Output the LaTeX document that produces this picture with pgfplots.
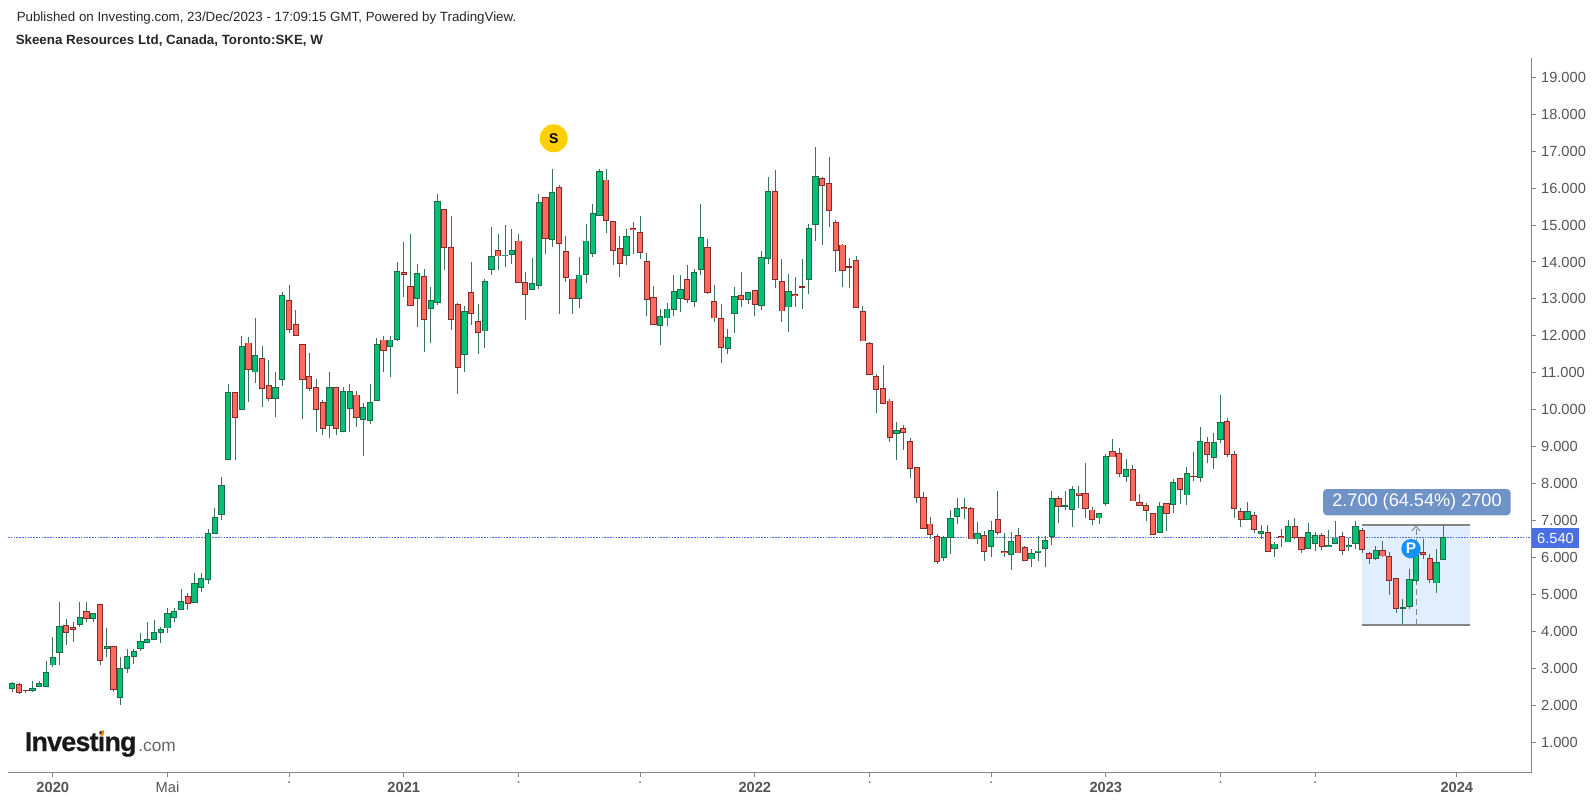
\documentclass[border=0pt]{standalone}
\usepackage{fontspec}
\setmainfont{Liberation Sans}
\newfontfamily\logofont{Liberation Sans}[UprightFont=* Bold, LetterSpace=-3, FakeBold=0.5]
\usepackage{pgfplots}
\usepackage{pgfplotstable}
\pgfplotsset{compat=1.18}
\definecolor{upfill}{HTML}{05C176}
\definecolor{upedge}{HTML}{1A6B48}
\definecolor{dnfill}{HTML}{FF6A5E}
\definecolor{dnedge}{HTML}{862B2B}
\definecolor{wickc}{HTML}{3B7358}
\definecolor{axisc}{HTML}{858585}
\definecolor{tickc}{HTML}{555555}
\definecolor{pricec}{HTML}{4A6FE3}
\definecolor{rectc}{HTML}{E0EEFF}
\definecolor{labelc}{HTML}{6F93C6}
\definecolor{smark}{HTML}{FFD000}
\definecolor{pmark}{HTML}{1591F5}

% x open high low close
\pgfplotstableread{
x o h l c
0 2.45 2.64 2.37 2.60
3 2.38 2.67 2.36 2.46
4 2.51 2.67 2.51 2.60
5 2.51 3.21 2.51 2.90
6 3.08 3.86 3.05 3.31
7 3.43 4.81 3.08 4.15
10 4.17 4.81 4.13 4.39
12 4.35 4.49 4.26 4.49
14 3.53 4.09 3.32 3.61
16 2.21 3.31 2.00 3.00
17 2.99 3.52 2.88 3.34
18 3.30 3.52 3.12 3.48
19 3.53 3.95 3.48 3.75
20 3.70 4.26 3.70 3.79
21 3.77 4.30 3.77 3.99
22 3.97 4.13 3.70 4.06
23 4.08 4.63 3.97 4.49
24 4.37 4.63 4.26 4.55
25 4.58 5.15 4.58 4.82
27 4.78 5.57 4.78 5.30
28 5.18 5.57 5.08 5.44
29 5.39 6.76 5.28 6.66
30 6.65 7.33 6.65 7.10
31 7.15 8.18 7.02 7.97
32 8.64 10.71 8.64 10.48
34 10.00 12.00 10.00 11.73
36 11.01 12.47 10.73 11.49
39 10.30 11.02 9.81 10.61
40 10.81 13.19 10.65 13.11
47 9.56 11.02 9.24 10.61
49 9.39 10.62 9.39 10.51
50 10.03 10.71 9.41 10.51
52 9.72 10.17 8.75 10.07
53 9.69 10.71 9.61 10.20
54 10.24 11.93 10.24 11.79
56 11.69 12.00 10.90 11.90
57 11.89 14.00 11.85 13.75
60 13.01 13.94 12.25 13.69
62 12.74 13.31 11.82 12.98
63 12.88 15.84 12.83 15.65
67 11.48 12.82 11.03 12.67
70 12.12 13.53 11.68 13.49
71 13.78 14.95 13.64 14.16
73 14.15 14.99 13.87 14.20
74 14.19 14.88 13.94 14.33
77 13.24 14.11 13.24 13.42
78 13.34 15.83 13.27 15.62
80 14.59 16.51 14.41 15.89
84 13.01 14.14 12.75 13.66
85 13.65 15.02 13.44 14.58
86 14.22 15.56 14.14 15.32
87 15.24 16.51 15.24 16.47
91 14.16 14.88 13.91 14.70
96 12.26 12.74 11.74 12.53
97 12.47 12.88 12.28 12.74
98 12.70 13.64 12.55 13.21
99 13.01 13.64 12.65 13.26
101 12.91 13.80 12.79 13.72
102 13.79 15.56 13.65 14.67
106 11.65 12.18 11.51 11.96
107 12.60 13.32 12.09 13.08
109 12.97 13.18 12.85 13.18
111 12.81 14.31 12.69 14.13
112 14.09 16.31 13.94 15.92
115 12.77 13.67 12.11 13.21
118 13.51 15.02 13.13 14.91
119 15.00 17.11 14.58 16.33
131 9.35 9.67 8.63 9.46
138 6.00 6.57 5.92 6.55
139 6.54 7.30 6.10 7.06
140 7.09 7.60 6.91 7.33
143 6.49 6.96 6.36 6.66
145 6.28 7.00 6.02 6.75
148 6.07 6.69 5.66 6.45
151 5.95 6.22 5.75 6.11
152 6.13 6.59 5.92 6.19
153 6.24 6.59 5.75 6.48
154 6.55 7.81 6.33 7.60
156 7.38 7.81 7.28 7.41
157 7.29 7.95 6.84 7.85
161 7.06 7.20 6.91 7.20
162 7.45 8.80 7.39 8.75
165 8.19 8.66 8.05 8.39
170 6.67 7.51 6.67 7.39
172 7.42 8.12 7.21 8.04
174 7.68 8.46 7.41 8.28
176 8.16 9.54 8.05 9.15
178 8.70 9.36 8.39 9.12
179 9.18 10.39 9.11 9.67
183 7.02 7.51 7.02 7.26
185 6.65 6.87 6.51 6.72
187 6.24 6.43 6.02 6.38
189 6.41 7.02 6.41 6.85
192 6.24 6.93 6.24 6.68
193 6.38 6.68 6.18 6.61
195 6.28 6.75 6.28 6.35
196 6.38 7.00 6.38 6.54
198 6.28 6.53 6.18 6.35
199 6.38 7.00 6.24 6.85
202 5.97 6.31 5.93 6.21
206 4.62 4.87 4.19 4.66
207 4.67 5.69 4.62 5.43
208 5.36 6.20 5.30 6.07
211 5.30 6.22 5.05 5.87
212 5.93 6.88 5.93 6.55
}\uptable

\pgfplotstableread{
x o h l c
1 2.57 2.61 2.31 2.34
2 2.42 2.42 2.34 2.38
8 4.18 4.35 3.62 3.97
9 4.12 4.26 3.72 4.04
11 4.55 4.81 4.26 4.34
13 4.73 4.73 3.08 3.19
15 3.61 3.61 2.37 2.42
26 4.97 5.03 4.57 4.75
33 10.48 10.48 8.64 9.79
35 11.82 11.96 10.22 11.08
37 11.39 11.73 10.08 10.57
38 10.68 11.36 10.25 10.30
41 12.98 13.37 12.07 12.17
42 12.33 12.69 12.00 12.00
43 11.79 11.79 9.75 10.81
44 10.91 11.54 10.52 10.57
45 10.61 10.82 9.41 10.00
46 10.20 10.26 9.31 9.49
48 10.61 10.61 9.31 9.49
51 10.41 10.52 9.54 9.79
55 11.90 12.00 11.03 11.58
58 13.72 14.55 13.06 13.65
59 13.35 14.77 12.81 12.81
61 13.62 13.80 11.57 12.43
64 15.44 15.44 13.78 14.39
65 14.40 15.25 12.15 12.43
66 12.85 12.88 10.43 11.14
68 13.18 14.00 12.29 12.60
69 12.40 12.85 11.50 12.09
72 14.33 14.75 13.77 14.15
75 14.58 14.77 13.44 13.44
76 13.45 13.73 12.43 13.11
79 15.75 15.75 14.22 14.63
81 16.02 16.07 12.59 14.49
82 14.30 14.71 13.47 13.57
83 13.55 13.55 12.59 13.01
88 16.23 16.51 14.79 15.10
89 15.11 15.11 13.91 14.29
90 14.37 14.71 13.60 13.95
92 14.91 15.09 14.22 14.86
93 14.80 15.25 14.08 14.25
94 14.03 14.23 12.55 12.97
95 13.05 13.36 12.29 12.29
100 13.53 13.91 12.90 12.97
103 14.40 14.61 13.13 13.17
104 12.94 13.37 12.38 12.47
105 12.47 12.86 11.27 11.68
108 13.11 13.73 12.79 12.97
110 13.25 13.25 12.55 12.83
113 15.92 16.48 13.29 13.51
114 13.48 14.07 12.38 12.66
116 13.12 13.60 12.79 13.07
117 13.34 14.07 12.72 13.30
120 16.26 16.31 14.45 16.05
121 16.13 16.84 14.95 15.37
122 15.08 15.13 13.74 14.29
123 14.47 14.49 13.33 13.75
124 13.89 14.11 13.29 13.85
125 14.06 14.17 12.76 12.76
126 12.67 12.82 11.85 11.85
127 11.80 11.83 10.94 10.94
128 10.91 10.96 9.92 10.53
129 10.58 11.20 10.16 10.16
130 10.25 10.28 9.14 9.24
132 9.50 9.59 8.90 9.38
133 9.15 9.23 8.16 8.41
134 8.44 8.44 7.49 7.62
135 7.63 7.78 6.78 6.78
136 6.92 7.10 6.50 6.61
137 6.58 6.63 5.83 5.89
141 7.37 7.60 7.04 7.32
142 7.33 7.36 6.49 6.49
144 6.61 6.73 5.92 6.14
146 7.03 7.81 6.60 6.67
147 6.18 6.66 6.02 6.11
149 6.62 6.79 6.11 6.11
150 6.29 6.32 5.90 5.90
155 7.60 7.67 6.94 7.38
158 7.76 7.95 7.33 7.66
159 7.74 8.55 7.07 7.32
160 7.30 7.37 6.87 7.02
163 8.88 9.20 8.71 8.71
164 8.82 8.96 8.19 8.26
166 8.39 8.50 7.52 7.52
167 7.50 7.72 7.39 7.39
168 7.43 7.49 7.00 7.25
169 7.20 7.20 6.61 6.61
171 7.47 7.47 6.73 7.18
173 8.14 8.14 7.45 7.83
175 8.22 8.87 8.08 8.19
177 9.12 9.27 8.57 8.78
180 9.70 9.77 8.73 8.78
181 8.79 8.89 7.06 7.32
182 7.26 7.33 6.84 7.02
184 7.16 7.24 6.67 6.75
186 6.68 6.87 6.14 6.14
188 6.58 6.77 6.29 6.52
190 6.85 7.06 6.50 6.54
191 6.55 6.55 6.13 6.20
194 6.62 6.66 6.20 6.28
197 6.58 6.70 6.06 6.17
200 6.75 6.79 6.13 6.20
201 6.11 6.16 5.83 5.97
203 6.21 6.46 6.01 6.03
204 6.04 6.16 4.99 5.36
205 5.44 5.44 4.51 4.62
209 6.15 6.49 5.95 6.07
210 5.98 6.10 5.32 5.39
}\downtable

\pgfplotsset{
  wick/.style={forget plot, draw=none, mark=none,
    error bars/.cd, y dir=both, y explicit, error mark=none,
    error bar style={line width=0.8pt, color=wickc, solid}},
  body/.style 2 args={forget plot, draw=none, mark=none,
    error bars/.cd, y dir=plus, y explicit, error mark=none,
    error bar style={line width=#1, color=#2, solid}},
}

\begin{document}
\begin{tikzpicture}[x=0.75pt,y=0.75pt]
\path[use as bounding box] (0,0) rectangle (1593,801);
\begin{axis}[
  at={(6pt,21.225pt)}, anchor=south west,
  scale only axis, width=1142.775pt, height=536.025pt,
  xmin=-0.637, xmax=225.096, ymin=0.1773, ymax=19.52,
  axis x line*=bottom, axis y line*=right,
  axis line style={draw=axisc, line width=1.1pt},
  tick align=outside, major tick length=3pt,
  every tick/.style={draw=axisc, line width=0.7pt},
  ytick={1,2,...,19},
  xtick={6,23,41,58,75,93,110,127,145,162,179,193,214},
  xticklabels={\textbf{2020},Mai,.,\textbf{2021},.,.,\textbf{2022},.,.,\textbf{2023},.,.,\textbf{2024}},
  yticklabel style={/pgf/number format/fixed, /pgf/number format/fixed zerofill,
    /pgf/number format/precision=3, /pgf/number format/assume math mode=true,
    font=\fontsize{11pt}{12pt}\selectfont, text=tickc, xshift=0.5pt},
  xticklabel style={font=\fontsize{11pt}{12pt}\selectfont, text=tickc, yshift=-0.5pt},
  clip=false,
]
% measured range
\addplot[forget plot, fill=rectc, draw=none] coordinates {(200,4.18)(216,4.18)(216,6.88)(200,6.88)} -- cycle;
\addplot[forget plot, axisc, line width=1.1pt] coordinates {(200,6.88)(216,6.88)};
\addplot[forget plot, axisc, line width=1.1pt] coordinates {(200,4.18)(216,4.18)};
\addplot[forget plot, axisc, line width=0.9pt, dash pattern=on 4.5pt off 3pt] coordinates {(208,4.18)(208,6.88)};
% current price
\addplot[forget plot, pricec, line width=0.75pt, dash pattern=on 1.2pt off 0.9pt] coordinates {(-0.637,6.54)(225.096,6.54)};
% green candles
\addplot[wick] table[x=x, y=o, y error plus expr=\thisrow{h}-\thisrow{o}, y error minus expr=\thisrow{o}-\thisrow{l}] {\uptable};
\addplot[body={4.7pt}{upedge}] table[x=x, y=o, y error plus expr=\thisrow{c}-\thisrow{o}] {\uptable};
\addplot[body={3.2pt}{upfill}] table[x=x, y expr=\thisrow{o}+0.024, y error plus expr={max(\thisrow{c}-\thisrow{o}-0.048,0)}] {\uptable};
% red candles
\addplot[wick] table[x=x, y=c, y error plus expr=\thisrow{h}-\thisrow{c}, y error minus expr=\thisrow{c}-\thisrow{l}] {\downtable};
\addplot[body={4.7pt}{dnedge}] table[x=x, y=c, y error plus expr=\thisrow{o}-\thisrow{c}] {\downtable};
\addplot[body={3.2pt}{dnfill}] table[x=x, y expr=\thisrow{c}+0.024, y error plus expr={max(\thisrow{o}-\thisrow{c}-0.048,0)}] {\downtable};
\end{axis}
% overlays, placed in reference pixels (y measured from the bottom)
\node[anchor=base west, font=\fontsize{10pt}{11pt}\selectfont, text=black!85, inner sep=0] at (16.5,801-21.5) {Published on Investing.com, 23/Dec/2023 - 17:09:15 GMT, Powered by TradingView.};
\node[anchor=base west, font=\bfseries\fontsize{10pt}{11pt}\selectfont, text=black!85, inner sep=0] at (15.5,801-45) {Skeena Resources Ltd, Canada, Toronto:SKE, W};
% price tag
\fill[pricec] (1531.7,801-528.3) rectangle (1579,801-547.7);
\node[text=white, font=\fontsize{11pt}{12pt}\selectfont, inner sep=0] at (1555.5,801-538) {6.540};
% range label
\fill[labelc, rounded corners=3pt] (1323,801-489) rectangle (1510.7,801-515.3);
\node[text=white, font=\fontsize{13.6pt}{15pt}\selectfont, inner sep=0] at (1417,801-502.2) {2.700 (64.54\%) 2700};
% chevron
\draw[axisc, line width=0.7pt] (1412,801-531) -- (1416,801-526) -- (1420,801-531);
% event markers
\fill[smark] (553.7,801-138.3) circle (14);
\node[font=\bfseries\fontsize{10.5pt}{12pt}\selectfont, text=black, inner sep=0] at (553.7,801-138.3) {S};
\fill[pmark] (1411,801-548.7) circle (9.7);
\node[font=\bfseries\fontsize{11.5pt}{12pt}\selectfont, text=white, inner sep=0] at (1411,801-548.7) {P};
% logo
\node[anchor=base west, font=\logofont\fontsize{20.2pt}{22pt}\selectfont, text=black!90, inner sep=0] at (24.5,801-751) {Investing};
\node[anchor=base west, font=\fontsize{13pt}{15pt}\selectfont, text=black!60, inner sep=0] at (138,801-751) {.com};
\fill[orange] (100,801-735) -- (103,801-730) -- (104.5,801-731) -- (102.5,801-736) -- cycle;
\end{tikzpicture}
\end{document}
